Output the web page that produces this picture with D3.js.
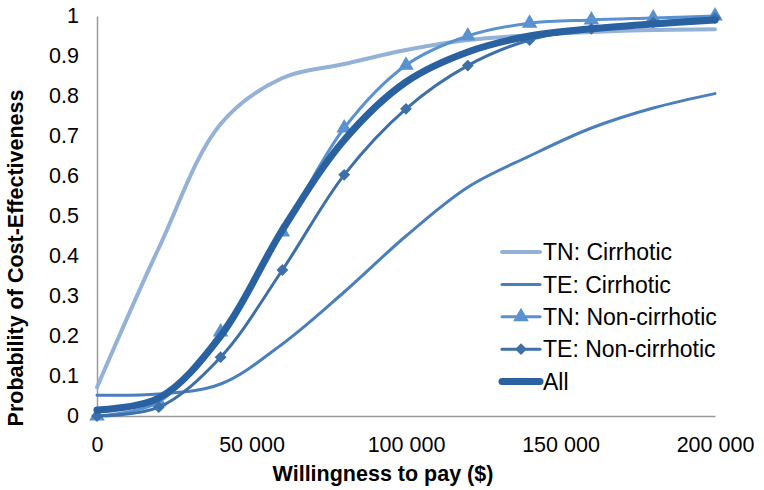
<!DOCTYPE html>
<html>
<head>
<meta charset="utf-8">
<script src="https://cdn.jsdelivr.net/npm/d3@7"></script>
<style>
    body { margin: 0; background: #fff; }
    text { font-family: "Liberation Sans", Arial, sans-serif; fill: #000; }
</style>
</head>
<body>
<div id="chart"></div>
<script>
// willingness to pay, one point every 20 000
const wtp = [0, 20000, 40000, 60000, 80000, 100000, 120000, 140000, 160000, 180000, 200000];

// probability of cost-effectiveness
const tnCirrhotic    = [0.072, 0.42, 0.73, 0.845, 0.88, 0.915, 0.94, 0.952, 0.96, 0.965, 0.967];
const teCirrhotic    = [0.052, 0.055, 0.08, 0.18, 0.31, 0.45, 0.572, 0.65, 0.72, 0.77, 0.806];
const tnNonCirrhotic = [0.0, 0.035, 0.21, 0.46, 0.72, 0.877, 0.95, 0.982, 0.99, 0.995, 1.0];
const teNonCirrhotic = [0.0, 0.022, 0.147, 0.365, 0.603, 0.768, 0.876, 0.94, 0.968, 0.984, 0.995];
const allPatients    = [0.015, 0.045, 0.2, 0.465, 0.69, 0.835, 0.91, 0.95, 0.968, 0.98, 0.99];

const seriesNames = ['TN: Cirrhotic', 'TE: Cirrhotic', 'TN: Non-cirrhotic', 'TE: Non-cirrhotic', 'All'];
const seriesValues = [tnCirrhotic, teCirrhotic, tnNonCirrhotic, teNonCirrhotic, allPatients];

const xTicks = [0, 50000, 100000, 150000, 200000];
const yTicks = [0, 0.1, 0.2, 0.3, 0.4, 0.5, 0.6, 0.7, 0.8, 0.9, 1];

// look of each series (same order as seriesNames)
// marker: symbol type, size and rotation (excel diamond = square turned 45deg)
const styles = [
    { colour: '#94b2d8', width: 4, marker: null },
    { colour: '#4a7ebd', width: 3, marker: null },
    { colour: '#5a91d0', width: 3, marker: { type: d3.symbolTriangle, size: 105, rot: 0 } },
    { colour: '#3d6fa8', width: 3, marker: { type: d3.symbolSquare, size: 70, rot: 45 } },
    { colour: '#2a61a0', width: 7, marker: null }
];

const W = 764, H = 490;
const margin = { top: 16, right: 49, bottom: 74, left: 97 };

const svg = d3.select('#chart').append('svg')
    .attr('width', W)
    .attr('height', H);

// scales
const x = d3.scaleLinear()
    .domain([0, 200000])
    .range([margin.left, W - margin.right]);
const y = d3.scaleLinear()
    .domain([0, 1])
    .range([H - margin.bottom, margin.top]);

// number format with a space as thousands separator
const fmt = d => d3.format(',')(d).replace(/,/g, ' ');

// x axis (no tick marks, grey line)
const gx = svg.append('g')
    .attr('transform', `translate(0, ${y(0)})`)
    .call(d3.axisBottom(x).tickValues(xTicks).tickFormat(fmt).tickSize(0).tickPadding(23));

// y axis
const gy = svg.append('g')
    .attr('transform', `translate(${x(0)}, 0)`)
    .call(d3.axisLeft(y).tickValues(yTicks).tickFormat(d3.format('')).tickSize(0).tickPadding(18));

[gx, gy].forEach(g => {
    g.select('.domain').attr('stroke', '#9a9a9a').attr('stroke-width', 1.5);
    g.selectAll('text')
        .attr('font-size', 21.5)
        .attr('font-family', '"Liberation Sans", Arial, sans-serif')
        .attr('fill', '#000');
});
gx.selectAll('text').attr('dy', '0.6em');

// axis titles
svg.append('text')
    .attr('x', 383)
    .attr('y', 481)
    .attr('text-anchor', 'middle')
    .attr('font-size', 21.5)
    .attr('font-weight', 'bold')
    .text('Willingness to pay ($)');

svg.append('text')
    .attr('transform', 'translate(23, 258) rotate(-90)')
    .attr('text-anchor', 'middle')
    .attr('font-size', 21.5)
    .attr('font-weight', 'bold')
    .text('Probability of Cost-Effectiveness');

// smoothed line generator, similar to excel's smoothed lines
const line = d3.line()
    .x(d => x(d[0]))
    .y(d => y(d[1]))
    .curve(d3.curveCatmullRom.alpha(0.5));

const data = seriesNames.map((name, i) => ({
    name: name,
    style: styles[i],
    values: wtp.map((w, j) => [w, seriesValues[i][j]])
}));

const gl = svg.append('g');
data.forEach(s => {
    gl.append('path')
        .attr('d', line(s.values))
        .attr('fill', 'none')
        .attr('stroke', s.style.colour)
        .attr('stroke-width', s.style.width)
        .attr('stroke-linecap', 'round')
        .attr('stroke-linejoin', 'round');

    const m = s.style.marker;
    if (m) {
        gl.selectAll(null)
            .data(s.values)
            .enter()
            .append('path')
                .attr('d', d3.symbol().type(m.type).size(m.size))
                .attr('transform', d => `translate(${x(d[0])}, ${y(d[1])}) rotate(${m.rot})`)
                .attr('fill', s.style.colour);
    }
});

// legend
const legend = svg.append('g')
    .attr('transform', 'translate(502, 252)')
    .selectAll('g')
    .data(data)
    .enter()
        .append('g')
        .attr('transform', (_, i) => `translate(0, ${i * 32.4})`);

legend.append('line')
    .attr('x1', 0)
    .attr('x2', 38)
    .attr('stroke', d => d.style.colour)
    .attr('stroke-width', d => d.style.width)
    .attr('stroke-linecap', 'round');

legend.filter(d => d.style.marker)
    .append('path')
    .attr('d', d => d3.symbol().type(d.style.marker.type).size(d.style.marker.size)())
    .attr('transform', d => `translate(19, 0) rotate(${d.style.marker.rot})`)
    .attr('fill', d => d.style.colour);

legend.append('text')
    .attr('x', 41)
    .attr('dy', '0.36em')
    .attr('font-size', 23)
    .text(d => d.name);
</script>
</body>
</html>
